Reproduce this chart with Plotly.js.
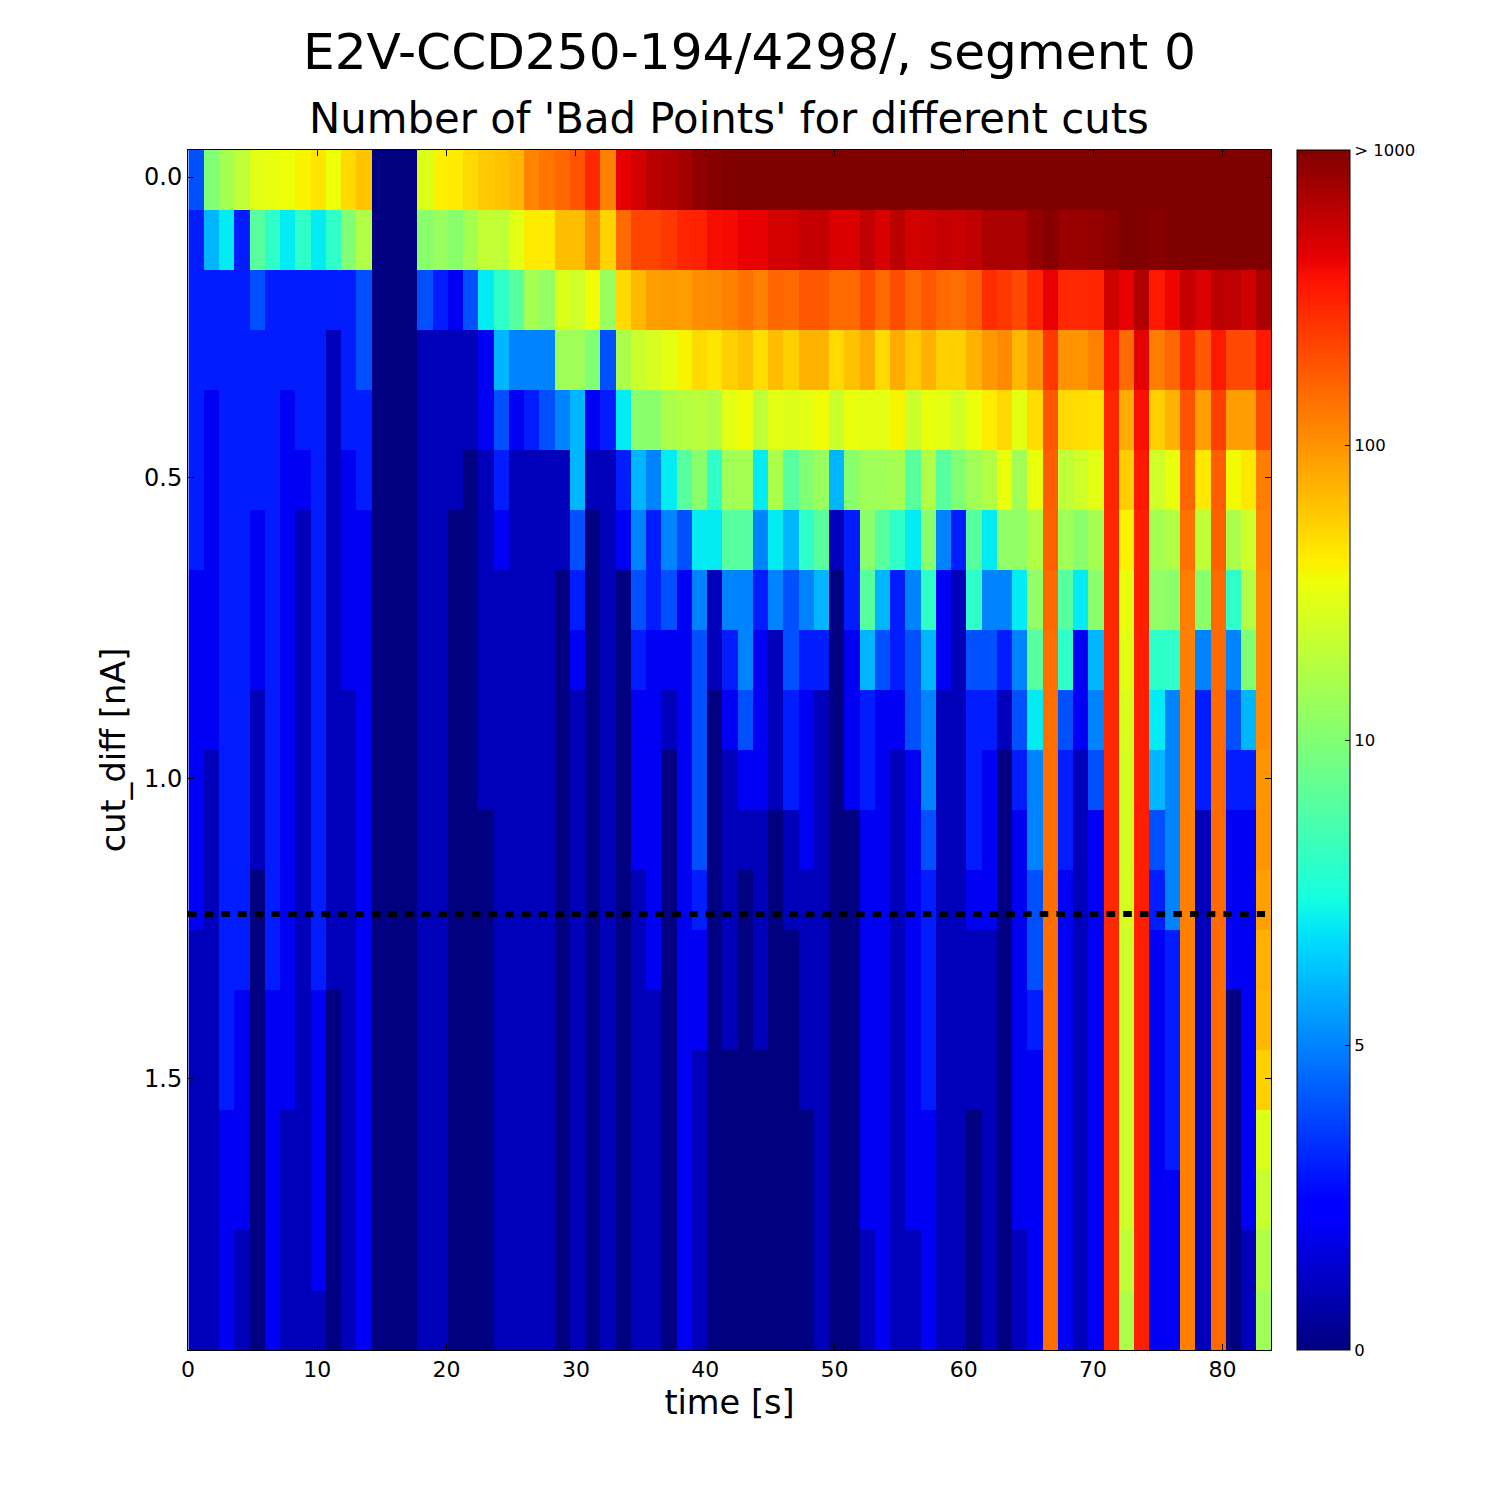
<!DOCTYPE html>
<html>
<head>
<meta charset="utf-8">
<script src="https://cdn.plot.ly/plotly-3.0.1.min.js"></script>
<style>html,body{margin:0;padding:0;background:#fff}</style>
</head>
<body>
<div id="chart" style="width:1500px;height:1500px"></div>
<script>
// Counts of bad points: one array per cut_diff row, one value per time bin
const row00=[4,10,15,20,30,32,34,38,45,34,50,62, 0,0,0,28,40,42,50,58,62,70,115,135, 155,190,290,120,430,510,620,680,740,880,950,1000, 1000,1000,1000,1000,1000,1000,1000,1000,1000,1000,1000,1000, 1000,1000,1000,1000,1000,1000,1000,1000,1000,1000,1000,1000, 1000,1000,1000,1000,1000,1000,1000,1000,1000,1000,1000];
const row01=[3,6,7,3,9,8,7,8,7,8,10,17, 0,0,0,11,13,11,15,21,20,30,42,42, 65,65,105,53,150,220,220,250,300,310,380,390, 430,430,510,510,570,580,480,480,600,480,620,510, 530,570,550,600,710,710,710,850,950,810,810,850, 900,1000,1000,950,1000,1000,1000,1000,1000,1000,1000];
const row02=[3,3,3,3,4,3,3,3,3,3,3,4, 0,0,0,4,3,2,4,7,8,9,15,12, 28,24,35,13,50,68,90,93,90,105,108,120, 140,120,155,150,180,180,150,150,200,150,200,150, 180,150,145,170,280,250,210,300,430,290,290,300, 530,430,680,340,410,570,470,620,600,530,710];
const row03=[3,3,3,3,3,3,3,3,3,1,3,4, 0,0,0,1,1,1,1,2,6,5,5,5, 14,14,10,4,16,23,26,31,38,50,44,55, 63,48,66,55,74,74,50,63,78,50,78,58, 74,55,55,74,95,110,70,100,250,100,100,120, 340,150,450,125,155,290,180,340,210,210,340];
const row04=[3,2,3,3,3,3,2,3,3,1,3,3, 0,0,0,1,1,1,1,2,4,2,3,4, 5,6,2,3,7,11,11,16,18,19,17,30, 35,20,30,28,30,35,23,33,31,30,38,23, 33,30,25,33,41,50,31,48,180,50,48,46, 300,78,370,55,74,190,90,230,90,90,200];
const row05=[3,2,3,3,3,3,2,2,3,1,2,3, 0,0,0,1,1,1,0,1,3,1,1,1, 1,6,1,1,3,6,5,7,9,11,8,14, 15,7,16,9,10,13,6,11,14,14,15,9, 17,9,10,14,17,33,14,33,170,20,24,30, 300,56,340,24,33,160,43,170,36,43,125];
const row06=[3,2,3,3,2,3,2,1,3,1,2,2, 0,0,0,1,1,0,0,1,2,1,1,1, 1,4,0,1,2,5,3,5,4,7,7,9, 9,5,7,6,8,9,1,3,11,9,8,7, 11,5,3,9,7,12,12,17,165,14,11,15, 290,39,320,15,17,140,20,165,16,24,118];
const row07=[2,2,3,3,2,3,2,1,3,1,2,2, 0,0,0,1,1,0,0,1,1,1,1,1, 0,3,0,1,0,4,3,4,2,5,1,5, 5,3,5,4,5,6,0,3,9,6,3,5, 8,2,1,8,5,5,7,12,150,9,7,11, 290,32,320,12,11,125,11,150,8,17,108];
const row08=[2,2,3,3,2,3,2,1,3,1,2,2, 0,0,0,1,1,0,0,1,1,1,1,1, 0,2,0,1,0,3,2,2,2,4,1,3, 5,2,1,4,3,3,0,2,6,4,3,4, 6,2,1,4,4,3,5,9,145,8,2,6, 290,30,320,8,8,122,5,150,5,10,108];
const row09=[2,2,3,3,1,3,2,1,3,1,1,2, 0,0,0,1,1,0,0,1,1,1,1,1, 0,1,0,1,0,2,2,1,2,4,0,2, 4,2,1,3,2,1,0,2,3,2,2,4, 5,1,1,3,3,1,4,7,145,4,2,5, 290,27,320,7,5,122,3,150,4,6,108];
const row10=[2,1,3,3,1,3,2,1,3,1,1,2, 0,0,0,1,1,0,0,1,1,1,1,1, 0,1,0,1,0,2,2,0,2,4,0,1, 2,2,1,3,2,1,0,2,3,2,1,2, 5,1,1,3,2,0,3,5,145,3,1,4, 290,26,320,6,5,122,3,150,3,3,100];
const row11=[2,1,3,3,1,3,2,1,3,1,1,2, 0,0,0,1,1,0,0,0,1,1,1,1, 0,1,0,1,0,2,2,0,2,4,0,1, 1,1,0,1,2,1,0,0,2,2,1,2, 4,1,1,3,2,0,2,5,145,3,1,2, 290,26,320,4,5,122,1,150,2,2,100];
const row12=[2,1,3,3,0,3,2,1,3,1,1,2, 0,0,0,1,1,0,0,0,1,1,1,1, 0,1,0,1,0,1,2,0,2,3,0,1, 0,1,0,1,1,1,0,0,2,2,1,2, 3,1,1,2,2,0,2,4,145,2,1,2, 290,26,320,3,5,122,1,150,2,2,88];
const row13=[1,1,3,3,0,3,2,1,3,1,1,2, 0,0,0,1,1,0,0,0,1,1,1,1, 0,1,0,1,0,1,2,0,2,2,0,1, 0,1,0,0,1,1,0,0,2,2,1,2, 3,1,1,1,1,0,2,4,145,2,1,2, 290,24,320,2,3,122,1,150,2,2,75];
const row14=[1,1,3,2,0,2,2,1,2,0,1,2, 0,0,0,1,1,0,0,0,1,1,1,1, 0,1,0,1,0,1,1,0,2,2,0,1, 0,1,0,0,1,1,0,0,2,2,1,2, 3,1,1,1,1,0,2,3,145,2,1,2, 290,24,320,2,3,122,1,150,0,2,70];
const row15=[1,1,3,2,0,2,2,1,2,0,1,2, 0,0,0,1,1,0,0,0,1,1,1,1, 0,1,0,1,0,1,1,0,2,1,0,0, 0,0,0,0,1,1,0,0,2,2,1,2, 3,1,1,1,1,0,2,2,145,2,1,2, 290,24,320,2,3,122,1,150,0,2,55];
const row16=[1,1,2,2,0,2,1,1,2,0,1,2, 0,0,0,1,1,0,0,0,1,1,1,1, 0,1,0,1,0,1,1,0,2,1,0,0, 0,0,0,0,0,1,0,0,2,2,1,2, 2,1,1,0,1,0,2,2,145,2,1,2, 290,24,320,2,3,122,1,150,0,2,28];
const row17=[1,1,2,2,0,2,1,1,2,0,1,2, 0,0,0,1,1,0,0,0,1,1,1,1, 0,1,0,1,0,1,1,0,2,1,0,0, 0,0,0,0,0,1,0,0,2,2,1,2, 2,1,1,0,1,0,2,2,145,2,1,2, 290,24,320,2,2,122,1,150,0,2,22];
const row18=[1,1,2,1,0,2,1,1,2,0,1,2, 0,0,0,1,1,0,0,0,1,1,1,1, 0,1,0,1,0,1,1,0,2,1,0,0, 0,0,0,0,0,1,0,0,1,2,1,1, 2,1,1,0,1,0,1,2,145,2,1,2, 290,20,320,2,2,122,1,150,0,1,17];
const row19=[1,1,2,1,0,2,1,1,1,0,1,2, 0,0,0,1,1,0,0,0,1,1,1,1, 0,1,0,1,0,1,1,0,2,1,0,0, 0,0,0,0,0,1,0,0,1,2,1,1, 2,1,1,0,1,0,1,2,145,2,1,2, 290,16,320,2,2,122,1,150,0,1,14];
const counts=[row00,row01,row02,row03,row04,row05,row06,row07,row08,row09,row10,row11,row12,row13,row14,row15,row16,row17,row18,row19];

const timeBin=83.76/71;       // s per column
const timeStart=timeBin/2+0.04;
const cutBin=0.09985;         // nA per row
const cutStart=0.0042;        // centre of first row
const timeRange=[0,83.76];
const cutRange=[1.951,-0.045];
const cutLineX=[0,83.3];
const cutLineY=[1.2257,1.2257];

const xTicks=[0,10,20,30,40,50,60,70,80];
const yTicks=[0,0.5,1,1.5];
const yTickText=['0.0','0.5','1.0','1.5'];
const barCounts=[0,5,10,100,1000];
const barLabels=['0','5','10','100','> 1000'];

const jetStops=[0,0.11,0.125,0.34,0.35,0.375,0.64,0.65,0.66,0.89,0.91,1];
const jetColors=['rgb(0,0,128)','rgb(0,0,255)','rgb(0,0,255)','rgb(0,219,255)','rgb(0,230,248)','rgb(20,255,226)','rgb(238,255,8)','rgb(247,245,0)','rgb(255,236,0)','rgb(255,19,0)','rgb(232,0,0)','rgb(128,0,0)'];

// The colour norm of the original: linear up to 10, logarithmic above it.
function norm(v){return v<=10 ? v*0.0508 : 0.508+0.246*Math.log10(v/10);}
const fontFamily='"DejaVu Sans", sans-serif';

const heat={
  type:'heatmap',
  z:counts.map(r=>r.map(norm)),
  x0:timeStart,dx:timeBin,
  y0:cutStart,dy:cutBin,
  zmin:0,zmax:1,zsmooth:false,
  colorscale:jetStops.map((s,i)=>[s,jetColors[i]]),
  colorbar:{
    x:1.024,xref:'paper',xanchor:'left',xpad:0,
    y:0.5,yanchor:'middle',ypad:0,len:1,lenmode:'fraction',
    thickness:53,thicknessmode:'pixels',
    outlinecolor:'#000',outlinewidth:1,
    ticks:'inside',ticklen:5,tickwidth:1,tickcolor:'#000',
    tickmode:'array',tickvals:barCounts.map(norm),ticktext:barLabels,
    tickfont:{family:fontFamily,size:16.5,color:'#000'}
  }
};
const cutLine={
  type:'scatter',mode:'lines',x:cutLineX,y:cutLineY,showlegend:false,
  line:{color:'#000',width:6,dash:'8.6px,8.1px'}
};
const axisCommon={
  showgrid:false,zeroline:false,showline:true,linecolor:'#000',linewidth:1,mirror:'allticks',
  ticks:'inside',ticklen:6,tickwidth:1,tickcolor:'#000',
  tickmode:'array'
};
const layout={
  width:1500,height:1500,
  margin:{l:188,r:229,t:150,b:150,pad:0,autoexpand:false},
  paper_bgcolor:'#fff',plot_bgcolor:'#fff',showlegend:false,
  title:{text:'E2V-CCD250-194/4298/, segment 0',font:{family:fontFamily,size:50.2,color:'#000'},
         x:749.5/1500,xanchor:'center',xref:'container',y:1-51/1500,yanchor:'middle',yref:'container'},
  annotations:[{text:"Number of 'Bad Points' for different cuts",showarrow:false,
    xref:'paper',yref:'paper',x:(729-188)/1083,y:(1350-118)/1200,xanchor:'center',yanchor:'middle',
    font:{family:fontFamily,size:41.8,color:'#000'}}],
  xaxis:Object.assign({},axisCommon,{range:timeRange,tickvals:xTicks,ticktext:xTicks.map(String),
    tickfont:{family:fontFamily,size:22,color:'#000'},
    title:{text:'time [s]',font:{family:fontFamily,size:33.6,color:'#000'},standoff:9}}),
  yaxis:Object.assign({},axisCommon,{range:cutRange,tickvals:yTicks,ticktext:yTickText,
    tickfont:{family:fontFamily,size:24,color:'#000'},
    title:{text:'cut_diff [nA]',font:{family:fontFamily,size:33.6,color:'#000'},standoff:8}})
};
Plotly.newPlot('chart',[heat,cutLine],layout,{displayModeBar:false,responsive:false});
</script>
</body>
</html>
